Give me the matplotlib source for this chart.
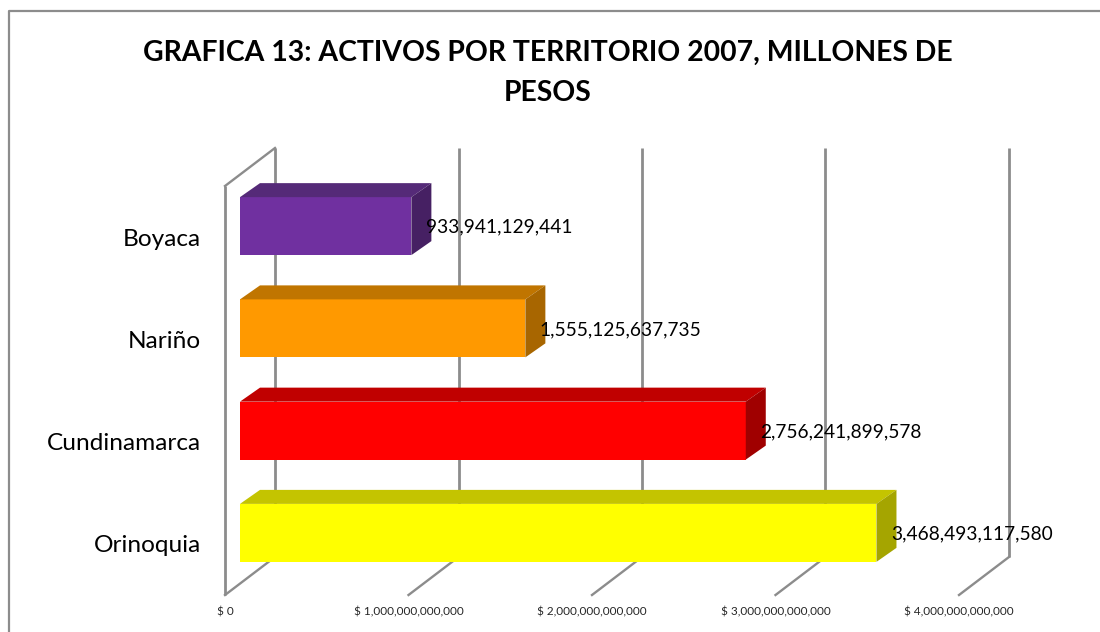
import matplotlib
matplotlib.use('Agg')
import matplotlib.pyplot as plt
from matplotlib.patches import Polygon
from matplotlib.transforms import Affine2D

categories = ['Boyaca', 'Nariño', 'Cundinamarca', 'Orinoquia']
values = [933941129441, 1555125637735, 2756241899578, 3468493117580]
front_colors = ['#7030A0', '#FF9900', '#FF0000', '#FFFF00']
top_colors = ['#552A78', '#C07500', '#C00000', '#C4C400']
side_colors = ['#462063', '#A86600', '#A00000', '#A5A500']
x_ticks = [0, 1000000000000, 2000000000000, 3000000000000, 4000000000000]
title = 'GRAFICA 13: ACTIVOS POR TERRITORIO 2007, MILLONES DE\nPESOS'

W, H = 1100, 632
GRID = '#8C8C8C'
plt.rcParams['font.family'] = ['Lato', 'DejaVu Sans']

fig = plt.figure(figsize=(W / 100, H / 100), dpi=100)
# the axes is the plane of the front face of the bars
ax = fig.add_axes([240 / W, 1 - 584 / H, 734 / W, 409 / H])
ax.set_xlim(0, 4e12)
ax.set_ylim(3.5, -0.5)
ax.axis('off')

# outer chart border
fig.add_artist(plt.Line2D([8.5 / W, 8.5 / W, 1], [0, 1 - 10.5 / H, 1 - 10.5 / H],
                          color=GRID, lw=1.6))

# walls and floor, shifted in pixels from the bar plane
front_wall = ax.transData + Affine2D().translate(-15, -11)
back_wall = ax.transData + Affine2D().translate(35, 27)
y_low, y_high = 3.5, -0.5


def to_px(x, y, dx=0, dy=0):
    px, py = ax.transData.transform((x, y))
    return px + dx, py + dy


for t in x_ticks:
    ax.plot([t, t], [y_low, y_high], color=GRID, lw=2.0, transform=back_wall,
            clip_on=False, zorder=1, solid_capstyle='butt')
    a = to_px(t, y_low, -15, -11)
    b = to_px(t, y_low, 35, 27)
    ax.add_line(plt.Line2D([a[0], b[0]], [a[1], b[1]], color=GRID, lw=1.7,
                           transform=None, clip_on=False, zorder=1))

ax.plot([0, 0], [y_low, y_high], color=GRID, lw=2.0, transform=front_wall,
        clip_on=False, zorder=1, solid_capstyle='butt')
a = to_px(0, y_high, -15, -11)
b = to_px(0, y_high, 35, 27)
ax.add_line(plt.Line2D([a[0], b[0]], [a[1], b[1]], color=GRID, lw=1.7,
                       transform=None, clip_on=False, zorder=1))

# bars
BAR_H = 0.567
DX, DY = 20, 14
ax.barh(range(len(values)), values, height=BAR_H, color=front_colors, zorder=3)
for i, v in enumerate(values):
    top0 = to_px(0, i - BAR_H / 2)
    top1 = to_px(v, i - BAR_H / 2)
    bot1 = to_px(v, i + BAR_H / 2)
    ax.add_patch(Polygon([top0, top1, (top1[0] + DX, top1[1] + DY), (top0[0] + DX, top0[1] + DY)],
                         closed=True, facecolor=top_colors[i], edgecolor='none',
                         transform=None, clip_on=False, zorder=3))
    ax.add_patch(Polygon([top1, bot1, (bot1[0] + DX, bot1[1] + DY), (top1[0] + DX, top1[1] + DY)],
                         closed=True, facecolor=side_colors[i], edgecolor='none',
                         transform=None, clip_on=False, zorder=3))
    ax.annotate(f'{v:,}', xy=(v, i), xytext=(14.5 * 0.72, -1 * 0.72),
                textcoords='offset points', ha='left', va='center',
                fontsize=13.8, color='black', zorder=5, annotation_clip=False)
    ax.annotate(categories[i], xy=(0, i), xytext=(-39 * 0.72, -13 * 0.72),
                textcoords='offset points', ha='right', va='center',
                fontsize=17.6, color='black', annotation_clip=False)

for t in x_ticks:
    label = '$ ' + f'{t:,}'
    ax.annotate(label, xy=(t, y_low), xytext=(-15 * 0.72, -28 * 0.72),
                textcoords='offset points', ha='center', va='center',
                fontsize=8.5, color='#262626', annotation_clip=False)

fig.text(548 / W, 1 - 73 / H, title, ha='center', va='center', fontsize=20.4,
         fontweight='bold', color='black', linespacing=1.65)

fig.savefig('out.png', dpi=100, facecolor='white')
